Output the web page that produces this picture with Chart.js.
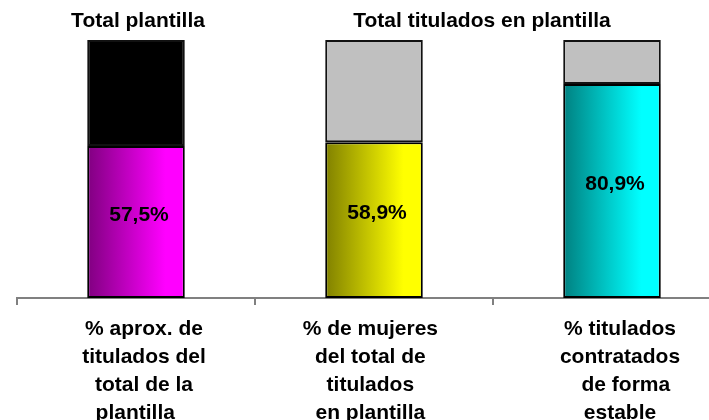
<!DOCTYPE html>
<html>
<head>
<meta charset="utf-8">
<script src="https://cdn.jsdelivr.net/npm/chart.js@4/dist/chart.umd.min.js"></script>
<style>
  html, body { margin: 0; padding: 0; background: #fff; overflow: hidden; }
  #wrap { width: 731px; height: 420px; }
</style>
</head>
<body>
<div id="wrap"><canvas id="chart"></canvas></div>
<script>
// categorias (con espacios para imitar el desplazamiento del original)
const categories = [
  ["% aprox. de", "titulados del", "total de la", "plantilla   "],
  ["% de mujeres    ", "del total de    ", "titulados    ", "en plantilla    "],
  ["% titulados", "contratados", "  de forma", "estable"],
];
const pctValues = [57.5, 58.9, 80.9];
const restValues = [40.0, 38.6, 16.6];
const groupTitles = ["Total plantilla", "Total titulados en plantilla"];

const darkColors = ["#800080", "#808000", "#008080"];
const brightColors = ["#FF00FF", "#FFFF00", "#00FFFF"];
const restColors = ["#000000", "#C0C0C0", "#C0C0C0"];

Chart.defaults.font.family = "'Liberation Sans', Arial, sans-serif";
Chart.defaults.font.weight = "bold";
Chart.defaults.font.size = 21;
Chart.defaults.color = "#000";

function gradientFill(context) {
  const chart = context.chart;
  const i = context.dataIndex;
  const x = chart.scales.x;
  if (!chart.chartArea || !x) return brightColors[i];
  const c = x.getPixelForValue(i);
  const half = (x.width / categories.length) * 0.41 / 2;
  const g = chart.ctx.createLinearGradient(c - half, 0, c + half, 0);
  g.addColorStop(0, darkColors[i]);
  g.addColorStop(0.8, brightColors[i]);
  g.addColorStop(1, brightColors[i]);
  return g;
}

const labelsPlugin = {
  id: "labels",
  afterDatasetsDraw(chart) {
    const ctx = chart.ctx;
    const meta = chart.getDatasetMeta(0);
    const x = chart.scales.x;
    ctx.save();
    ctx.font = "bold 21px 'Liberation Sans', Arial, sans-serif";
    ctx.fillStyle = "#000";
    ctx.textAlign = "center";
    ctx.textBaseline = "middle";
    meta.data.forEach((bar, i) => {
      const txt = pctValues[i].toFixed(1).replace(".", ",") + "%";
      ctx.fillText(txt, bar.x + 3, (bar.y + bar.base) / 2 - 7);
    });
    // titulos de grupo
    ctx.textBaseline = "alphabetic";
    ctx.fillText(groupTitles[0], x.getPixelForValue(0) + 2, 27);
    const mid = (x.getPixelForValue(1) + x.getPixelForValue(2)) / 2;
    ctx.fillText(groupTitles[1], mid - 11, 27);
    ctx.restore();
  },
};

const ctx = document.getElementById("chart");
new Chart(ctx, {
  type: "bar",
  data: {
    labels: categories,
    datasets: [
      {
        data: pctValues,
        backgroundColor: gradientFill,
        borderColor: "#000",
        borderWidth: 2,
        borderSkipped: false,
      },
      {
        data: restValues,
        backgroundColor: restColors,
        borderColor: "#111",
        borderWidth: 2,
        borderSkipped: false,
      },
    ],
  },
  options: {
    responsive: true,
    maintainAspectRatio: false,
    animation: false,
    datasets: { bar: { categoryPercentage: 1, barPercentage: 0.41 } },
    layout: { padding: { left: 17, top: 33.5, right: 0, bottom: 0 } },
    plugins: { legend: { display: false }, tooltip: { enabled: false } },
    scales: {
      x: {
        stacked: true,
        grid: {
          offset: true,
          drawOnChartArea: false,
          color: "#808080",
          lineWidth: 2,
          tickLength: 7,
        },
        border: { color: "#808080", width: 2 },
        ticks: { padding: 10, labelOffset: 8, font: { size: 21, lineHeight: 1.33 } },
        afterFit: (axis) => { axis.height = 122; },
      },
      y: { stacked: true, display: false, min: 0, max: 100 },
    },
  },
  plugins: [labelsPlugin],
});
</script>
</body>
</html>
